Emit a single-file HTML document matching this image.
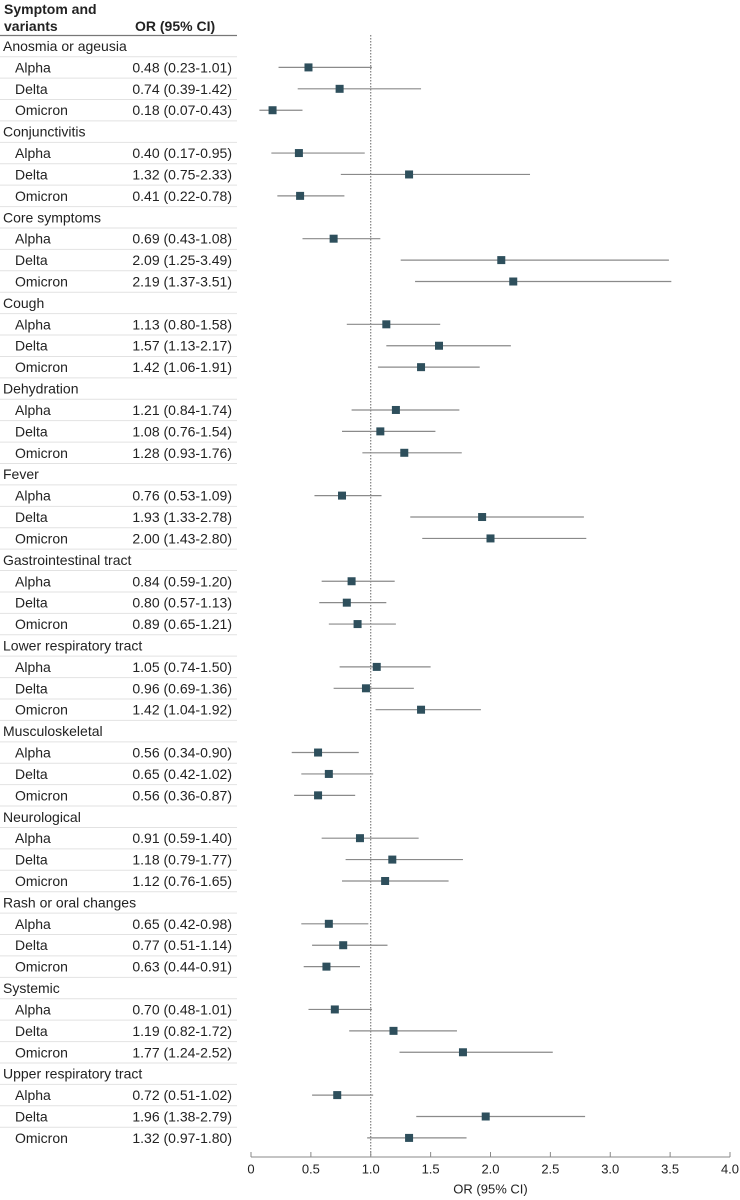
<!DOCTYPE html>
<html><head><meta charset="utf-8">
<style>
html,body{margin:0;padding:0;background:#fff;}
body{width:740px;height:1200px;overflow:hidden;position:relative;font-family:"Liberation Sans",sans-serif;color:#222;}
svg{position:absolute;left:0;top:0;}
</style></head>
<body>
<svg id="chart" width="740" height="1200" xmlns="http://www.w3.org/2000/svg"></svg>
<script>
const groups = ["Anosmia or ageusia","Conjunctivitis","Core symptoms","Cough","Dehydration","Fever","Gastrointestinal tract","Lower respiratory tract","Musculoskeletal","Neurological","Rash or oral changes","Systemic","Upper respiratory tract"];
const variants = ["Alpha","Delta","Omicron"];
const orValues = [0.48,0.74,0.18, 0.40,1.32,0.41, 0.69,2.09,2.19, 1.13,1.57,1.42, 1.21,1.08,1.28, 0.76,1.93,2.00, 0.84,0.80,0.89, 1.05,0.96,1.42, 0.56,0.65,0.56, 0.91,1.18,1.12, 0.65,0.77,0.63, 0.70,1.19,1.77, 0.72,1.96,1.32];
const ciLow = [0.23,0.39,0.07, 0.17,0.75,0.22, 0.43,1.25,1.37, 0.80,1.13,1.06, 0.84,0.76,0.93, 0.53,1.33,1.43, 0.59,0.57,0.65, 0.74,0.69,1.04, 0.34,0.42,0.36, 0.59,0.79,0.76, 0.42,0.51,0.44, 0.48,0.82,1.24, 0.51,1.38,0.97];
const ciHigh = [1.01,1.42,0.43, 0.95,2.33,0.78, 1.08,3.49,3.51, 1.58,2.17,1.91, 1.74,1.54,1.76, 1.09,2.78,2.80, 1.20,1.13,1.21, 1.50,1.36,1.92, 0.90,1.02,0.87, 1.40,1.77,1.65, 0.98,1.14,0.91, 1.01,1.72,2.52, 1.02,2.79,1.80];
const ticks = [0,0.5,1.0,1.5,2.0,2.5,3.0,3.5,4.0];
const tickLabels = ["0","0.5","1.0","1.5","2.0","2.5","3.0","3.5","4.0"];

const NS="http://www.w3.org/2000/svg";
const svg=document.getElementById('chart');
const X0=251, X1=730, DMAX=4;
function xScale(v){return X0+(v/DMAX)*(X1-X0);}
const ROW0=46, RH=21.41;
function yRow(i){return ROW0+i*RH;}
function mk(tag,attrs){const e=document.createElementNS(NS,tag);for(const k in attrs)e.setAttribute(k,attrs[k]);svg.appendChild(e);return e;}
function txt(x,y,s,anchor,size,weight){const t=mk('text',{x:x,y:y,'font-size':size||14,'text-anchor':anchor||'start','dominant-baseline':'central','font-family':'"Liberation Sans",sans-serif',fill:'#222'});if(weight)t.setAttribute('font-weight',weight);t.textContent=s;return t;}

// header
let h=txt(4,9,"Symptom and","start",14,"bold");


h=txt(4,26,"variants","start",14,"bold");


h=txt(135,26,"OR (95% CI)","start",14,"bold");


let hl=mk('line',{x1:0,x2:237,y1:35.5,y2:35.5,stroke:'#777','stroke-width':1.3});



// reference line
let ref=mk('line',{x1:xScale(1),x2:xScale(1),y1:35,y2:1157,stroke:'#666','stroke-width':1,'stroke-dasharray':'1.5,1.5'});



let row=0;
groups.forEach((g,gi)=>{
  const y=yRow(row);
  const t=txt(3,y,g,"start",14);
  
  
  row++;
  variants.forEach((v,vi)=>{
    const k=gi*3+vi;
    const yy=yRow(row);
    const sep=mk('line',{x1:0,x2:237,y1:yy-RH/2,y2:yy-RH/2,stroke:'#e2e2e2','stroke-width':1});
    
    
    const vl=txt(15,yy,v,"start",14);
    
    
    const ol=txt(232,yy,orValues[k].toFixed(2)+" ("+ciLow[k].toFixed(2)+"-"+ciHigh[k].toFixed(2)+")","end",14);
    
    
    const ci=mk('line',{x1:xScale(ciLow[k]),x2:xScale(ciHigh[k]),y1:yy,y2:yy,stroke:'#8a8a8a','stroke-width':1.2});
    
    
    const sq=mk('rect',{x:xScale(orValues[k])-4,y:yy-4,width:8,height:8,fill:'#2e4f5c'});
    
    
    row++;
  });
  if(gi<groups.length-1){
    const yb=yRow(row)-RH/2;
    const sep=mk('line',{x1:0,x2:237,y1:yb,y2:yb,stroke:'#e2e2e2','stroke-width':1});
    
    
  }
});

// axis
const AY=1157;
let ax=mk('line',{x1:xScale(0),x2:xScale(4),y1:AY,y2:AY,stroke:'#888','stroke-width':1});


ticks.forEach((tv,i)=>{
  const tk=mk('line',{x1:xScale(tv),x2:xScale(tv),y1:AY-5,y2:AY,stroke:'#888','stroke-width':1});
  
  
  const tl=txt(xScale(tv),AY+12,tickLabels[i],"middle",13);
  
  
});
let at=txt(xScale(2),1189,"OR (95% CI)","middle",13);


</script>
</body></html>
